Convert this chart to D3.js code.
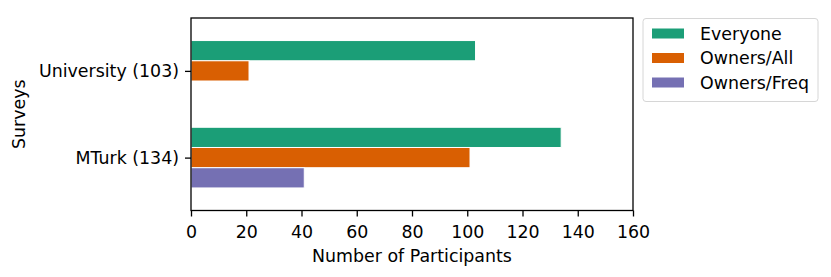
<!DOCTYPE html>
<html>
<head>
<meta charset="utf-8">
<script src="https://cdn.jsdelivr.net/npm/d3@7"></script>
<style>
  body { margin: 0; background: #fff; }
  text { font-family: "DejaVu Sans", sans-serif; fill: #000; }
</style>
</head>
<body>
<div id="chart"></div>
<script>
const surveys = ['University (103)', 'MTurk (134)']
const seriesNames = ['Everyone', 'Owners/All', 'Owners/Freq']
const everyone = [103, 134]
const ownersAll = [21, 101]
const ownersFreq = [0, 41]
const xTicks = [0, 20, 40, 60, 80, 100, 120, 140, 160]
const colors = ['#1b9e77', '#d95f02', '#7570b3']

const W = 831, H = 277
const plot = { left: 191, right: 633, top: 18, bottom: 210.5 }
const fontSize = 17.4

const svg = d3.select('#chart').append('svg')
  .attr('width', W)
  .attr('height', H)

const x = d3.scaleLinear().domain([0, 160]).range([plot.left, plot.right])
const y = d3.scaleLinear().domain([-0.61, 1.61]).range([plot.top, plot.bottom])
const barH = y(0.2333) - y(0)

const series = [everyone, ownersAll, ownersFreq]

series.forEach((vals, j) => {
  svg.selectAll('.bar-' + j)
    .data(vals)
    .enter()
    .append('rect')
    .attr('x', x(0))
    .attr('y', (d, i) => y(i) + (j - 1) * barH - barH / 2)
    .attr('width', d => x(d) - x(0))
    .attr('height', barH)
    .attr('fill', colors[j])
    .attr('stroke', d => d > 0 ? '#fff' : 'none')
    .attr('stroke-width', 1)
})

// axes
const xAxis = d3.axisBottom(x).tickValues(xTicks).tickSize(6).tickPadding(6)
const gx = svg.append('g').attr('transform', `translate(0,${plot.bottom})`).call(xAxis)
gx.select('.domain').remove()
gx.selectAll('line').attr('stroke', '#000').attr('stroke-width', 1.3)
gx.selectAll('text').style('font-size', fontSize + 'px').attr('dy', '0.9em')

const yAxis = d3.axisLeft(y).tickValues([0, 1]).tickFormat(i => surveys[i]).tickSize(6).tickPadding(6)
const gy = svg.append('g').attr('transform', `translate(${plot.left},0)`).call(yAxis)
gy.select('.domain').remove()
gy.selectAll('line').attr('stroke', '#000').attr('stroke-width', 1.3)
gy.selectAll('text').style('font-size', fontSize + 'px')

// frame
svg.append('rect')
  .attr('x', plot.left)
  .attr('y', plot.top)
  .attr('width', plot.right - plot.left)
  .attr('height', plot.bottom - plot.top)
  .attr('fill', 'none')
  .attr('stroke', '#000')
  .attr('stroke-width', 1.3)

svg.append('text')
  .attr('x', (plot.left + plot.right) / 2)
  .attr('y', 262)
  .attr('text-anchor', 'middle')
  .style('font-size', fontSize + 'px')
  .text('Number of Participants')

svg.append('text')
  .attr('transform', `translate(25,${(plot.top + plot.bottom) / 2}) rotate(-90)`)
  .attr('text-anchor', 'middle')
  .style('font-size', fontSize + 'px')
  .text('Surveys')

// legend
const lg = svg.append('g').attr('transform', 'translate(643,18.5)')
lg.append('rect')
  .attr('width', 175)
  .attr('height', 83)
  .attr('rx', 3)
  .attr('fill', '#fff')
  .attr('stroke', '#d6d6d6')
  .attr('stroke-width', 1)

seriesNames.forEach((name, j) => {
  const cy = 15 + j * 24.5
  lg.append('rect')
    .attr('x', 8.5)
    .attr('y', cy - 5.5)
    .attr('width', 33)
    .attr('height', 11)
    .attr('fill', colors[j])
    .attr('stroke', '#fff')
    .attr('stroke-width', 1)
  lg.append('text')
    .attr('x', 57)
    .attr('y', cy)
    .attr('dy', '0.36em')
    .style('font-size', fontSize + 'px')
    .text(name)
})
</script>
</body>
</html>
